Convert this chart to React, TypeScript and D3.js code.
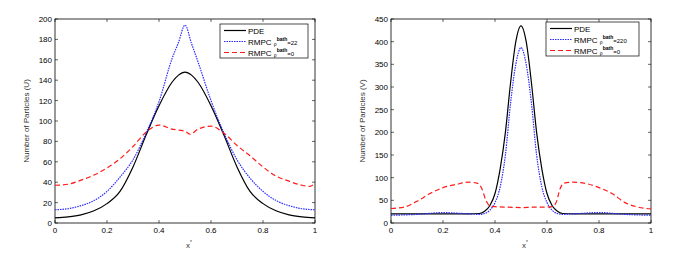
import * as d3 from "d3";

// left panel (U)
const xU = [0, 0.05, 0.1, 0.15, 0.2, 0.25, 0.3, 0.35, 0.4, 0.45, 0.475, 0.5, 0.525, 0.55, 0.6, 0.65, 0.7, 0.75, 0.8, 0.85, 0.9, 0.95, 1];
const pdeU = [5, 6, 8, 12, 19, 31, 55, 86, 115, 138, 145, 148, 145, 138, 115, 86, 55, 31, 19, 12, 8, 6, 5];
const bathU = [13, 14, 17, 22, 31, 45, 62, 88, 119, 161, 177, 194, 176, 158, 120, 88, 62, 44, 31, 22, 17, 14, 13];
const xUr = [0, 0.05, 0.1, 0.15, 0.2, 0.25, 0.3, 0.35, 0.4, 0.45, 0.5, 0.52, 0.55, 0.6, 0.65, 0.7, 0.75, 0.8, 0.85, 0.9, 0.95, 0.98, 1];
const zeroU = [37, 38, 42, 47, 54, 63, 75, 89, 96, 92, 90, 87, 92, 95, 88, 76, 66, 55, 46, 41, 37, 36, 39];

// right panel (V)
const xV = [0, 0.1, 0.2, 0.3, 0.34, 0.36, 0.38, 0.4, 0.42, 0.44, 0.46, 0.48, 0.5, 0.52, 0.54, 0.56, 0.58, 0.6, 0.62, 0.64, 0.66, 0.7, 0.8, 0.9, 1];
const pdeV = [20, 20, 20, 20, 21, 26, 38, 65, 120, 200, 310, 400, 435, 400, 310, 200, 120, 65, 38, 26, 21, 20, 20, 20, 20];
const bathV = [17, 19, 23, 20, 19, 21, 28, 45, 80, 150, 265, 350, 387, 350, 265, 150, 80, 45, 28, 21, 19, 20, 23, 19, 17];
const xVr = [0, 0.05, 0.1, 0.15, 0.2, 0.25, 0.3, 0.33, 0.35, 0.365, 0.38, 0.4, 0.45, 0.5, 0.55, 0.6, 0.62, 0.635, 0.65, 0.665, 0.7, 0.75, 0.8, 0.85, 0.9, 0.95, 1];
const zeroV = [32, 35, 48, 65, 78, 85, 90, 88, 75, 50, 38, 36, 35, 34, 35, 35, 36, 45, 75, 88, 90, 87, 78, 65, 45, 35, 31];

const xTicks = [0, 0.2, 0.4, 0.6, 0.8, 1];
const yTicksU = d3.range(0, 201, 20);
const yTicksV = d3.range(0, 451, 50);

const font = "Liberation Sans, Arial, sans-serif";

type Series = { xs: number[]; ys: number[]; color: string; dash: string };

function Panel(props: {
  left: number; yMax: number; yTicks: number[]; yLabel: string;
  series: Series[]; legend: string[]; legendW: number; legendX: number; legendY: number;
}) {
  const { left, yMax, yTicks, yLabel, series, legend, legendW, legendX, legendY } = props;
  const top = 19, bottom = 223, w = 260;
  const x = d3.scaleLinear().domain([0, 1]).range([left, left + w]);
  const y = d3.scaleLinear().domain([0, yMax]).range([bottom, top]);
  const tl = 3;
  return (
    <g fontFamily={font} fontSize={8}>
      <rect x={left} y={top} width={w} height={bottom - top} fill="#fff" stroke="#000" strokeWidth={0.8} />
      {xTicks.map((t) => (
        <g key={"x" + t}>
          <line x1={x(t)} x2={x(t)} y1={bottom} y2={bottom - tl} stroke="#000" strokeWidth={0.6} />
          <line x1={x(t)} x2={x(t)} y1={top} y2={top + tl} stroke="#000" strokeWidth={0.6} />
          <text x={x(t)} y={bottom + 10} textAnchor="middle">{t}</text>
        </g>
      ))}
      {yTicks.map((t) => (
        <g key={"y" + t}>
          <line x1={left} x2={left + tl} y1={y(t)} y2={y(t)} stroke="#000" strokeWidth={0.6} />
          <line x1={left + w} x2={left + w - tl} y1={y(t)} y2={y(t)} stroke="#000" strokeWidth={0.6} />
          <text x={left - 3} y={y(t) + 3} textAnchor="end">{t}</text>
        </g>
      ))}
      {series.map((s, i) => {
        const line = d3.line<number>().x((_, j) => x(s.xs[j])).y((d) => y(d)).curve(d3.curveMonotoneX);
        return <path key={i} d={line(s.ys) ?? ""} fill="none" stroke={s.color} strokeWidth={1.2} strokeDasharray={s.dash} />;
      })}
      <text x={left + w / 2 + 4} y={248} textAnchor="middle" fontSize={8} fill="#333">x<tspan dy={-4} fontSize={5}>*</tspan></text>
      <text transform={`translate(${left - 26},${(top + bottom) / 2}) rotate(-90)`} textAnchor="middle" fill="#333">{yLabel}</text>
      <g transform={`translate(${legendX},${legendY})`}>
        <rect x={0} y={0} width={legendW} height={34} fill="#fff" stroke="#000" strokeWidth={0.7} />
        {series.map((s, i) => (
          <g key={i} transform={`translate(0,${6.5 + i * 11})`}>
            <line x1={4} x2={26} y1={0} y2={0} stroke={s.color} strokeWidth={1.2} strokeDasharray={s.dash} />
            <text x={28} y={3} fontSize={8}>
              {i === 0 ? "PDE" : (
                <>
                  RMPC <tspan fontSize={5} dy={1}>ρ</tspan>
                  <tspan fontSize={5} fontWeight="bold" dy={-5}>bath</tspan>
                  <tspan fontSize={6} dy={4}>{legend[i]}</tspan>
                </>
              )}
            </text>
          </g>
        ))}
      </g>
    </g>
  );
}

export default function App() {
  return (
    <svg width={676} height={256} style={{ position: "absolute", left: 0, top: 0 }}>
      <rect width={676} height={256} fill="#fff" />
      <Panel
        left={55} yMax={200} yTicks={yTicksU} yLabel="Number of Particles (U)"
        legendX={220} legendY={24} legendW={88} legend={["", "=22", "=0"]}
        series={[
          { xs: xU, ys: pdeU, color: "#000", dash: "" },
          { xs: xU, ys: bathU, color: "#2b2bff", dash: "1.5,1" },
          { xs: xUr, ys: zeroU, color: "#ff1a1a", dash: "5,3" },
        ]}
      />
      <Panel
        left={391} yMax={450} yTicks={yTicksV} yLabel="Number of Particles (V)"
        legendX={546} legendY={22} legendW={93} legend={["", "=220", "=0"]}
        series={[
          { xs: xV, ys: pdeV, color: "#000", dash: "" },
          { xs: xV, ys: bathV, color: "#2b2bff", dash: "1.5,1" },
          { xs: xVr, ys: zeroV, color: "#ff1a1a", dash: "5,3" },
        ]}
      />
    </svg>
  );
}
